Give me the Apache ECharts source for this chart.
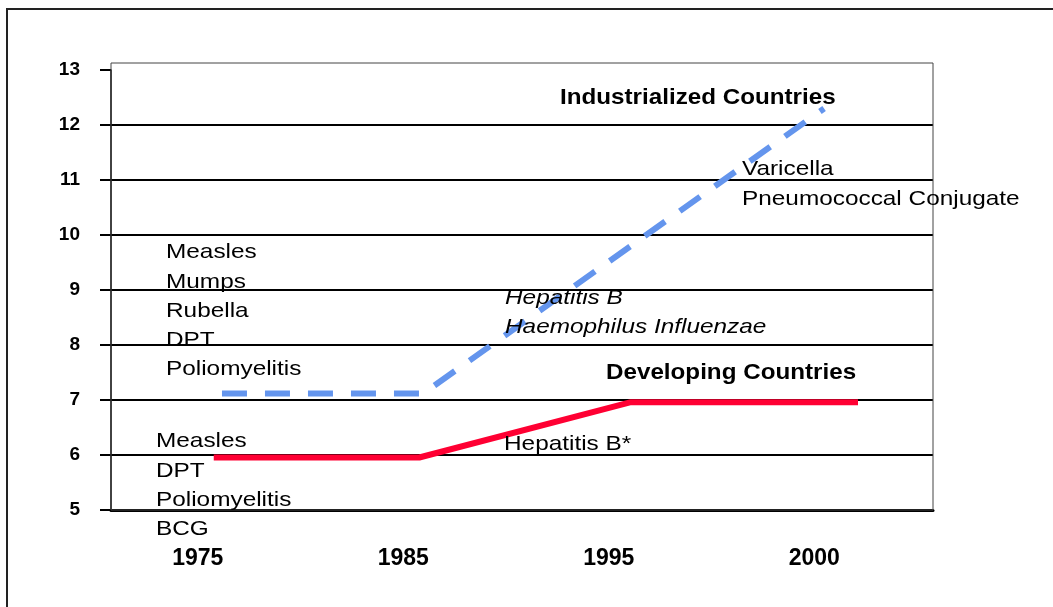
<!DOCTYPE html>
<html>
<head>
    <meta charset="UTF-8">
    <title>Vaccines in routine schedules</title>
    <script src="https://cdn.jsdelivr.net/npm/echarts@6/dist/echarts.min.js"></script>
    <style type="text/css">
        html, body, #main {
            height: 100%;
            width: 100%;
            margin: 0;
            padding: 0;
            background: #fff;
        }
    </style>
</head>
<body>
<div id="main"></div>
<script type="text/javascript">
    // category labels on the x axis
    var years = ['1975', '1985', '1995', '2000'];
    // y axis range
    var yMin = 5, yMax = 13, yStep = 1;

    // line points, x in category units (0..4, centers at .5), y = number of vaccines
    var industrialX = [0.54, 1.52, 3.47];
    var industrialY = [7.12, 7.12, 12.3];
    var developingX = [0.5, 1.5, 2.53, 3.635];
    var developingY = [5.955, 5.955, 6.96, 6.96];

    // annotation texts
    var industrialTitle = 'Industrialized Countries';
    var developingTitle = 'Developing Countries';
    var industrial1975 = ['Measles', 'Mumps', 'Rubella', 'DPT', 'Poliomyelitis'];
    var developing1975 = ['Measles', 'DPT', 'Poliomyelitis', 'BCG'];
    var industrial1985 = ['Hepatitis B', 'Haemophilus Influenzae'];
    var industrial1995 = ['Varicella', 'Pneumococcal Conjugate'];
    var developing1995 = ['Hepatitis B*'];

    var FONT = "'Liberation Sans', Arial, Helvetica, sans-serif";

    function zip(xs, ys) {
        return xs.map(function (x, i) { return [x, ys[i]]; });
    }

    function txt(x, y, text, opts) {
        opts = opts || {};
        return {
            type: 'text',
            x: x,
            y: y,
            scaleX: opts.scaleX || 1.16,
            z: 100,
            style: {
                text: text,
                fill: '#000',
                fontFamily: FONT,
                fontSize: opts.size || 21,
                fontWeight: opts.weight || 'normal',
                fontStyle: opts.style || 'normal',
                verticalAlign: 'middle'
            }
        };
    }

    // stacked list of labels, one per line
    function list(x, y0, lines, opts) {
        return lines.map(function (t, i) { return txt(x, y0 + i * 29.3, t, opts); });
    }

    var gridColors = [];
    for (var v = yMin; v <= yMax; v += yStep) {
        gridColors.push(v === yMax ? 'rgba(0,0,0,0)' : '#000');  // no line at the top value
    }

    var graphics = [
        // outer border of the picture
        {type: 'rect', z: 0, silent: true, shape: {x: 7, y: 9, width: 1100, height: 700},
            style: {fill: 'none', stroke: '#222', lineWidth: 2}},
        // plot area frame
        {type: 'rect', z: 1, silent: true, shape: {x: 111, y: 63, width: 822, height: 447},
            style: {fill: 'none', stroke: '#444', lineWidth: 1}},
        txt(560, 98, industrialTitle, {size: 22, weight: 'bold', scaleX: 1.1}),
        txt(606, 373, developingTitle, {size: 22, weight: 'bold', scaleX: 1.1}),
        txt(504, 444, developing1995[0])
    ]
        .concat(list(742, 169.5, industrial1995))
        .concat(list(166, 252.5, industrial1975))
        .concat(list(156, 441.5, developing1975))
        .concat(list(505, 298, industrial1985, {style: 'italic'}));

    var mycharts = echarts.init(document.getElementById('main'));
    var option = {
        animation: false,
        backgroundColor: '#fff',
        grid: {left: 111, right: 120, top: 70, bottom: 97},
        xAxis: [{
            type: 'category',
            data: years,
            boundaryGap: true,
            axisLine: {lineStyle: {color: '#000', width: 3}},
            axisTick: {length: 12, lineStyle: {color: '#000', width: 2}},
            axisLabel: {
                color: '#000',
                fontFamily: FONT,
                fontSize: 23,
                fontWeight: 'bold',
                margin: 37,
                padding: [0, 32, 0, 0]
            },
            splitLine: {show: false}
        }, {
            type: 'value',
            min: 0,
            max: years.length,
            show: false
        }],
        yAxis: {
            type: 'value',
            min: yMin,
            max: yMax,
            interval: yStep,
            axisLine: {show: true, lineStyle: {color: '#000', width: 1.5}},
            axisTick: {show: true, length: 11, lineStyle: {color: '#000', width: 2}},
            axisLabel: {
                color: '#000',
                fontFamily: FONT,
                fontSize: 19,
                fontWeight: 'bold',
                margin: 31,
                padding: [0, 0, 6, 0]
            },
            splitLine: {show: true, lineStyle: {color: gridColors, width: 2}}
        },
        series: [{
            name: 'Industrialized Countries',
            type: 'line',
            xAxisIndex: 1,
            data: zip(industrialX, industrialY),
            symbol: 'none',
            z: 3,
            lineStyle: {color: '#6495ED', width: 6, type: [25, 18], cap: 'butt'}
        }, {
            name: 'Developing Countries',
            type: 'line',
            xAxisIndex: 1,
            data: zip(developingX, developingY),
            symbol: 'none',
            z: 3,
            lineStyle: {color: '#ff0033', width: 6, cap: 'butt'}
        }],
        graphic: graphics
    };
    mycharts.setOption(option);
</script>
</body>
</html>
